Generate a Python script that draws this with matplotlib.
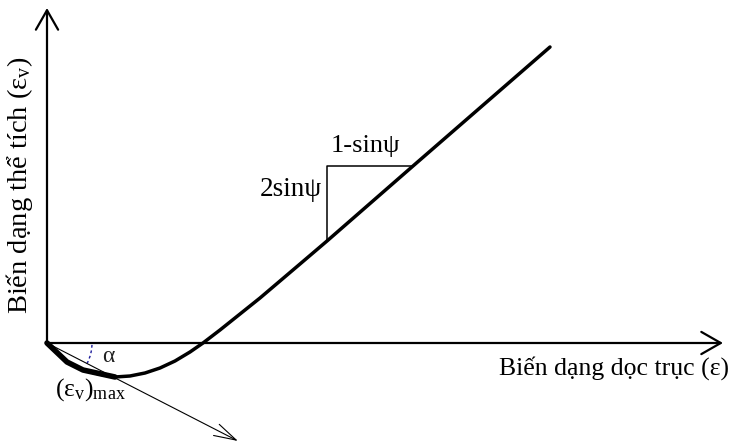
import matplotlib
matplotlib.use("Agg")
import matplotlib.pyplot as plt
from matplotlib.patches import Arc

plt.rcParams["font.family"] = ["Liberation Serif", "DejaVu Serif"]
plt.rcParams["mathtext.fontset"] = "custom"
plt.rcParams["mathtext.rm"] = "Liberation Serif"
plt.rcParams["mathtext.it"] = "Liberation Serif:italic"

# ── dilatancy curve: axial strain (ε) vs volumetric strain (εv) ──────────────
eps_axial = [0.0, 0.20, 0.36, 0.52, 0.68, 0.83, 0.98, 1.13, 1.28, 1.43,
             1.56, 1.73, 1.93, 2.13, 2.33, 2.53, 2.80, 3.66, 5.03]
eps_vol = [0.0, -0.19, -0.27, -0.31, -0.34, -0.33, -0.30, -0.25, -0.18, -0.09,
           0.0, 0.13, 0.29, 0.45, 0.62, 0.79, 1.02, 1.77, 2.96]

# initial compaction branch, drawn heavier
eps_axial_init = [0.0, 0.20, 0.36, 0.68]
eps_vol_init = [0.0, -0.19, -0.27, -0.34]

# slope triangle on the dilatant branch (2sinψ / 1-sinψ)
tri_x = [2.80, 2.80, 3.66]
tri_y = [1.02, 1.77, 1.77]

# initial tangent and its angle α
tangent_end = (1.91, -0.98)
alpha_deg = 27.2
alpha_radius = 0.45

# axis extents
x_axis_end = 6.76
y_axis_end = 3.35

fig = plt.figure(figsize=(7.32, 4.43), dpi=100)
ax = fig.add_axes([0, 0, 1, 1])
ax.set_xlim(-0.47, 6.85)
ax.set_ylim(-1.00, 3.43)
ax.axis("off")

# axes with open arrowheads
axis_arrow = dict(arrowstyle="->,head_length=1.4,head_width=0.8", lw=1.6,
                  color="black", shrinkA=0, shrinkB=0, mutation_scale=10)
ax.annotate("", xy=(x_axis_end, 0), xytext=(0, 0), arrowprops=axis_arrow)
ax.annotate("", xy=(0, y_axis_end), xytext=(0, 0), arrowprops=axis_arrow)

# tangent at the origin
ax.annotate("", xy=tangent_end, xytext=(0, 0),
            arrowprops=dict(arrowstyle="->,head_length=1.6,head_width=0.45",
                            lw=0.8, color="black", shrinkA=0, shrinkB=0,
                            mutation_scale=10))
ax.add_patch(Arc((0, 0), 2 * alpha_radius, 2 * alpha_radius,
                 theta1=-alpha_deg, theta2=0, color="#1c1c9c",
                 lw=1.0, ls=(0, (2, 2))))

# curve
ax.plot(eps_axial, eps_vol, color="black", lw=2.5,
        solid_capstyle="round", solid_joinstyle="round")
ax.plot(eps_axial_init, eps_vol_init, color="black", lw=4.0,
        solid_joinstyle="round", solid_capstyle="round")

# slope triangle
ax.plot(tri_x, tri_y, color="black", lw=1.1)

ax.text(-0.27, 1.58, r"Biến dạng thể tích ($\mathrm{ε_{v}}$)", rotation=90,
        ha="center", va="center", fontsize=20.5)
ax.text(5.67, -0.25, "Biến dạng dọc trục (ε)", ha="center", va="center",
        fontsize=18.5)
ax.text(2.75, 1.53, "2sinψ", ha="right", va="center", fontsize=19.5)
ax.text(3.18, 1.97, "1-sinψ", ha="center", va="center", fontsize=19)
ax.text(0.61, -0.14, "α", ha="center", va="center", fontsize=17,
        color="#222222")
ax.text(0.43, -0.47, r"$\mathrm{(ε_{v})_{max}}$", ha="center", va="center",
        fontsize=18.5)

fig.savefig("out.png", dpi=100, facecolor="white")
